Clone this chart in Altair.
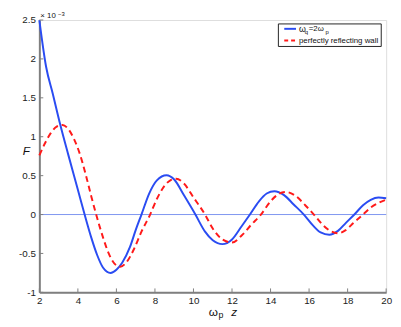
import altair as alt
import pandas as pd

# Blue: omega_q = 2 omega_p  (values in units of 1e-3)
blue_x = [2.0, 2.35, 2.7, 3.08, 3.5, 4.0, 4.35, 4.7, 5.0, 5.3, 5.7, 6.0, 6.3, 6.7, 7.0, 7.3,
          7.7, 8.1, 8.6, 9.0, 9.5, 10.1, 10.6, 11.0, 11.5, 12.0, 12.5, 12.93, 13.4, 13.8,
          14.2, 14.7, 15.2, 15.73, 16.2, 16.6, 17.05, 17.5, 17.9, 18.35, 18.8, 19.2, 19.6, 20.0]
blue_y = [2.5, 1.9, 1.55, 1.16, 0.77, 0.32, 0.0, -0.3, -0.52, -0.68, -0.75, -0.71, -0.62, -0.42, -0.2, 0.0,
          0.27, 0.44, 0.505, 0.45, 0.25, 0.0, -0.22, -0.33, -0.38, -0.32, -0.15, 0.0, 0.17, 0.27,
          0.30, 0.25, 0.13, 0.0, -0.14, -0.23, -0.26, -0.21, -0.11, 0.0, 0.12, 0.19, 0.22, 0.21]

# Red dashed: perfectly reflecting wall
red_x = [2.0, 2.3, 2.6, 2.9, 3.2, 3.5, 3.8, 4.1, 4.4, 4.7, 4.95, 5.3, 5.6, 5.9, 6.2, 6.5, 6.9, 7.3,
         7.75, 8.1, 8.5, 8.8, 9.1, 9.5, 10.0, 10.6, 11.0, 11.5, 12.0, 12.5, 13.0, 13.5, 14.0, 14.4,
         14.8, 15.3, 15.8, 16.25, 16.7, 17.1, 17.5, 17.9, 18.3, 18.8, 19.2, 19.6, 20.0]
red_y = [0.76, 0.92, 1.05, 1.13, 1.15, 1.10, 0.97, 0.78, 0.52, 0.23, 0.0, -0.29, -0.50, -0.63, -0.67, -0.62, -0.45, -0.22,
         0.0, 0.2, 0.37, 0.44, 0.46, 0.40, 0.22, 0.0, -0.18, -0.32, -0.36, -0.27, -0.13, 0.0, 0.17, 0.26,
         0.29, 0.24, 0.12, 0.0, -0.13, -0.21, -0.24, -0.20, -0.11, 0.0, 0.09, 0.15, 0.19]

x_ticks = [2, 4, 6, 8, 10, 12, 14, 16, 18, 20]
y_ticks = [-1, -0.5, 0, 0.5, 1, 1.5, 2, 2.5]

W, H = 354, 278
FONT = "Liberation Sans"
AXIS_COLOR = "#7f7f7f"
BLUE = "#2a4cf2"
RED = "#ff1a1a"

blue_df = pd.DataFrame({"x": blue_x, "y": blue_y})
red_df = pd.DataFrame({"x": red_x, "y": red_y})

xs = alt.Scale(domain=[2, 20], nice=False)
ys = alt.Scale(domain=[-1, 2.5], nice=False)

x_axis = alt.Axis(values=x_ticks, ticks=False, grid=False, domainColor=AXIS_COLOR,
                  domainWidth=2, labelFont=FONT, labelFontSize=10, labelColor="#222",
                  labelPadding=3, title=None, labelOverlap=False, labelFlush=False,
                  labelExpr="'' + datum.value")
y_axis = alt.Axis(values=y_ticks, ticks=False, grid=False, domainColor=AXIS_COLOR,
                  domainWidth=2, labelFont=FONT, labelFontSize=10, labelColor="#222",
                  labelPadding=4, title=None, labelOverlap=False, labelFlush=False,
                  labelExpr="'' + datum.value")

X = lambda: alt.X("x:Q", scale=xs, axis=x_axis)
Y = lambda: alt.Y("y:Q", scale=ys, axis=y_axis)

zero = alt.Chart(pd.DataFrame({"y": [0]})).mark_rule(color="#7d95f0", strokeWidth=1).encode(
    y=Y(), x=alt.value(0), x2=alt.value(W)
)
base_blue = alt.Chart(blue_df).mark_line(color=BLUE, strokeWidth=2, interpolate="monotone").encode(
    x=X(), y=Y()
)
red = alt.Chart(red_df).mark_line(color=RED, strokeWidth=2, strokeDash=[6, 4], interpolate="monotone").encode(
    x=X(), y=Y()
)
xt = alt.Chart(pd.DataFrame({"x": x_ticks})).mark_rule(color=AXIS_COLOR, strokeWidth=1).encode(
    x=X(), y=alt.value(H), y2=alt.value(H - 4)
)
yt = alt.Chart(pd.DataFrame({"y": y_ticks})).mark_rule(color=AXIS_COLOR, strokeWidth=1).encode(
    y=Y(), x=alt.value(0), x2=alt.value(4)
)

def txt(s, x, y, size=10, style="normal", font=FONT, align="left", color="#111"):
    return alt.Chart(pd.DataFrame({"t": [s]})).mark_text(
        align=align, baseline="middle", fontSize=size, fontStyle=style, font=font, color=color
    ).encode(text="t:N", x=alt.value(x), y=alt.value(y))

# legend box
lx0, ly0, lx1, ly1 = 244, 4, 349, 27
box = alt.Chart(pd.DataFrame({"a": [0]})).mark_rect(fill="white", stroke="#222", strokeWidth=1).encode(
    x=alt.value(lx0), x2=alt.value(lx1), y=alt.value(ly0), y2=alt.value(ly1)
)
leg_blue = alt.Chart(pd.DataFrame({"a": [0]})).mark_rule(color=BLUE, strokeWidth=2).encode(
    x=alt.value(250), x2=alt.value(262), y=alt.value(9)
)
leg_red = alt.Chart(pd.DataFrame({"a": [0]})).mark_rule(color=RED, strokeWidth=2, strokeDash=[4, 3]).encode(
    x=alt.value(250), x2=alt.value(263), y=alt.value(21)
)

texts = [
    txt("ω", 265, 9, 9),
    txt("q", 271, 12, 6),
    txt("=2ω", 275, 9, 8),
    txt("p", 292, 12, 6),
    txt("perfectly reflecting wall", 265, 21, 8),
    txt("× 10", 1, -4, 8),
    txt("−3", 19, -6, 6),
    txt("F", -17, 134, 12, style="italic"),
    txt("ω", 173, 298, 12),
    txt("p", 183, 301, 9),
    txt("z", 196, 298, 12, style="italic"),
]

chart = alt.layer(zero, base_blue, red, xt, yt, box, leg_blue, leg_red, *texts).properties(
    width=W, height=H,
    autosize=alt.AutoSizeParams(type="none"),
    padding={"left": 32, "top": 9, "right": 7, "bottom": 27},
).configure_view(stroke=None).configure_axis(labelOverlap=False).configure(background="white")

chart.save("out.html", embed_options={"renderer": "svg", "actions": False})
